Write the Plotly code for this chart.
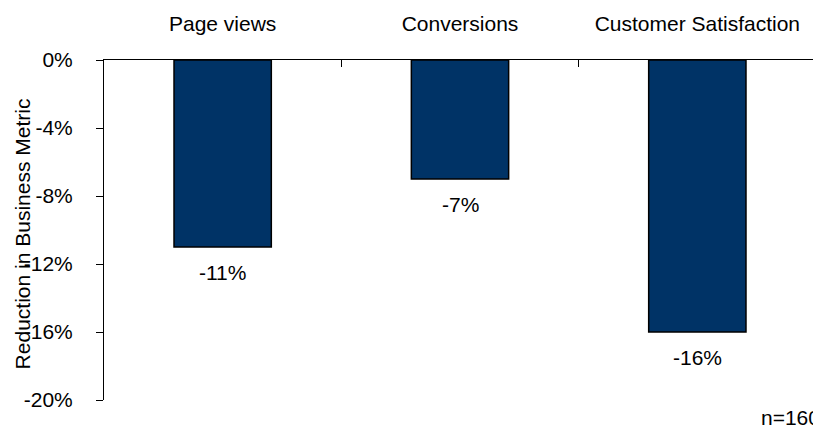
import plotly.graph_objects as go

categories = ["Page views", "Conversions", "Customer Satisfaction"]
values = [-11, -7, -16]
labels = ["-11%", "-7%", "-16%"]
y_ticks = [0, -4, -8, -12, -16, -20]
y_tick_labels = ["0%", "-4%", "-8%", "-12%", "-16%", "-20%"]
y_title = "Reduction in Business Metric"
note = "n=160"

font = dict(family="Liberation Sans, Arial, sans-serif", size=21, color="black")

fig = go.Figure(go.Bar(
    x=categories, y=values, width=0.41,
    marker=dict(color="#003366", line=dict(color="black", width=1.5)),
    hoverinfo="skip",
))

annotations = [
    dict(x=c, y=v, text=t, xref="x", yref="y", showarrow=False,
         yanchor="top", yshift=-12, font=font)
    for c, v, t in zip(categories, values, labels)
]
annotations.append(dict(text=note, xref="paper", yref="paper", x=1.007, y=-0.05,
                        xanchor="right", yanchor="middle", showarrow=False,
                        borderpad=0, font=font))
annotations.append(dict(text=y_title, xref="paper", yref="paper", x=-0.1152, y=0.49,
                        xanchor="center", yanchor="middle", textangle=-90,
                        showarrow=False, font=font))

# the page body has an 8px default margin; the figure is sized to fill the window
fig.update_layout(
    width=813, height=420,
    margin=dict(l=96, r=5, t=52, b=28),
    plot_bgcolor="white", paper_bgcolor="white",
    font=font, showlegend=False,
    xaxis=dict(side="top", showline=True, linecolor="black", linewidth=1,
               ticks="inside", ticklen=7, tickcolor="black", tickson="boundaries",
               showgrid=False, tickfont=font, automargin=False,
               ticklabelstandoff=20),
    yaxis=dict(range=[-20, 0], tickvals=y_ticks, ticktext=y_tick_labels,
               showline=True, linecolor="black", linewidth=1, ticks="outside",
               ticklen=7, tickcolor="black", showgrid=False, zeroline=False,
               automargin=False, ticklabelstandoff=19, tickfont=font),
    annotations=annotations,
)

fig.write_html("out.html")
